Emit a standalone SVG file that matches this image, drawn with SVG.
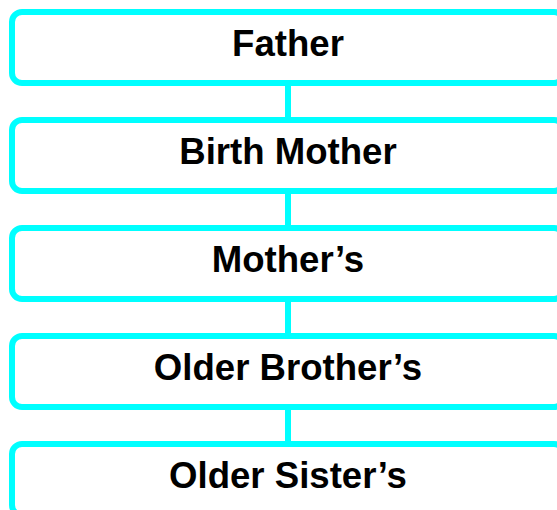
<svg xmlns="http://www.w3.org/2000/svg" width="557" height="510" viewBox="0 0 557 510">
  <style>
    .box { fill: #ffffff; stroke: #00ffff; stroke-width: 6; }
    .link { stroke: #00ffff; stroke-width: 6; fill: none; }
    .label { font-family: "Liberation Sans", Arial, sans-serif; font-weight: bold; font-size: 36.6px; fill: #000000; text-anchor: middle; }
  </style>
  <rect width="557" height="510" fill="#ffffff"/>
  <g id="connectors">
    <line class="link" x1="288" y1="83" x2="288" y2="120"/>
    <line class="link" x1="288" y1="191" x2="288" y2="228"/>
    <line class="link" x1="288" y1="299" x2="288" y2="336"/>
    <line class="link" x1="288" y1="407" x2="288" y2="444"/>
  </g>
  <g id="father">
    <rect class="box" x="12" y="12" width="552" height="71" rx="10"/>
    <text class="label" x="288" y="56">Father</text>
  </g>
  <g id="birth-mother">
    <rect class="box" x="12" y="120" width="552" height="71" rx="10"/>
    <text class="label" x="288" y="164">Birth Mother</text>
  </g>
  <g id="mothers">
    <rect class="box" x="12" y="228" width="552" height="71" rx="10"/>
    <text class="label" x="288" y="272">Mother’s</text>
  </g>
  <g id="older-brothers">
    <rect class="box" x="12" y="336" width="552" height="71" rx="10"/>
    <text class="label" x="288" y="380">Older Brother’s</text>
  </g>
  <g id="older-sisters">
    <rect class="box" x="12" y="444" width="552" height="71" rx="10"/>
    <text class="label" x="288" y="488">Older Sister’s</text>
  </g>
</svg>
